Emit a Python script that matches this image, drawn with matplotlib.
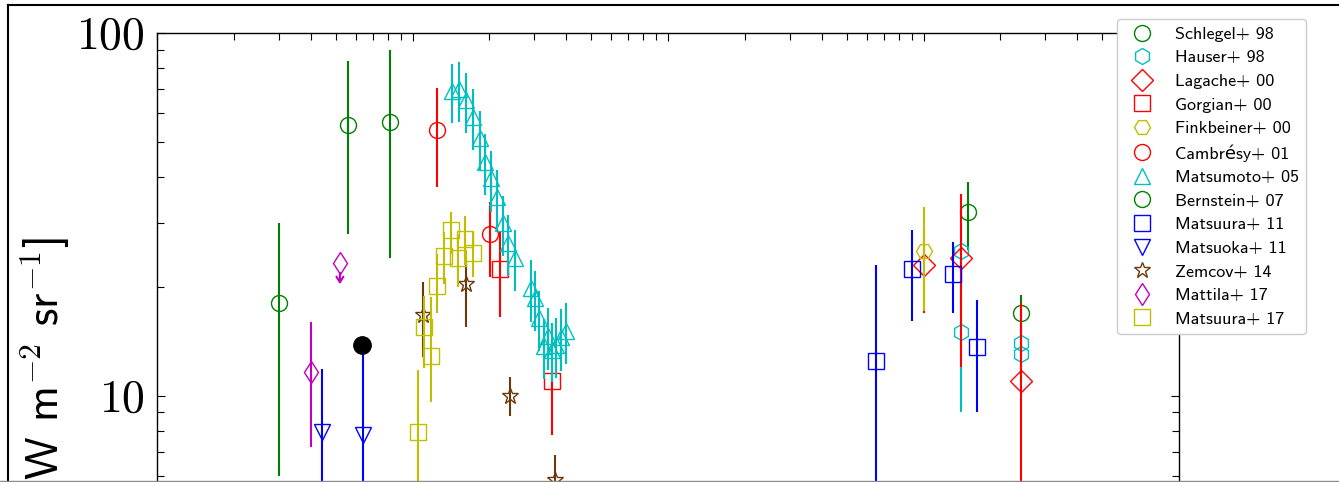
import matplotlib
matplotlib.use('Agg')
import matplotlib.pyplot as plt
from matplotlib.lines import Line2D
from matplotlib.ticker import FuncFormatter, LogLocator, NullFormatter

plt.rcParams['mathtext.fontset'] = 'cm'
plt.rcParams['font.family'] = ['cmss10', 'DejaVu Sans']
plt.rcParams['axes.formatter.use_mathtext'] = True

# ---------------- data (wavelength [um], nuI_nu [nW m^-2 sr^-1]) ----------------
schlegel_x = [150.0, 240.0]
schlegel_y = [32.0, 16.9]
schlegel_err = [6.8, 2.1]

hauser_x = [140.0, 140.0, 240.0, 240.0]
hauser_y = [25.1, 15.0, 14.0, 13.0]
hauser_err = [7.0, 6.0, 3.0, 2.0]

lagache_x = [100.0, 140.0, 240.0]
lagache_y = [22.9, 24.0, 11.0]
lagache_err = [6.0, 12.0, 7.0]

gorjian_x = [2.2, 3.53]
gorjian_y = [22.3, 11.0]
gorjian_lo = [5.8, 3.2]
gorjian_hi = [5.9, 3.3]

finkbeiner_x = [100.0]
finkbeiner_y = [25.1]
finkbeiner_err = [8.0]

cambresy_x = [1.25, 2.01]
cambresy_y = [54.0, 27.9]
cambresy_lo = [16.5, 6.6]
cambresy_hi = [16.4, 6.4]

matsumoto_x = [1.43, 1.52, 1.62, 1.72, 1.84, 1.92, 2.03, 2.14, 2.26, 2.36,
               2.52, 2.91, 3.02, 3.13, 3.27, 3.39, 3.52, 3.65, 3.81, 3.99]
matsumoto_y = [69.2, 70.1, 65.4, 58.7, 51.3, 44.1, 39.8, 35.3, 29.9, 26.4,
               24.0, 19.8, 18.6, 16.4, 13.7, 14.6, 13.4, 13.8, 14.5, 15.1]
matsumoto_err = [12.7, 13.3, 12.4, 11.2, 9.7, 8.4, 7.6, 6.7, 5.7, 5.0,
                 4.6, 3.8, 3.5, 3.1, 2.6, 2.8, 2.5, 2.6, 2.8, 2.9]

bernstein_x = [0.301, 0.561, 0.817]
bernstein_y = [18.0, 55.8, 56.9]
bernstein_err = [12.0, 27.8, 32.9]

matsuura11_x = [65.0, 90.4, 130.0, 161.6]
matsuura11_y = [12.5, 22.3, 21.7, 13.6]
matsuura11_lo = [10.0, 6.2, 4.8, 4.6]
matsuura11_hi = [10.4, 6.3, 4.8, 4.8]

matsuoka_x = [0.441, 0.642]
matsuoka_y = [7.96, 7.79]
matsuoka_lo = [4.0, 5.8]
matsuoka_hi = [3.9, 5.7]

zemcov_x = [1.10, 1.62, 2.41, 3.61]
zemcov_y = [16.7, 20.3, 9.98, 5.86]
zemcov_lo = [3.9, 4.8, 1.2, 1.0]
zemcov_hi = [3.9, 2.9, 1.3, 1.0]

mattila_x = [0.40]
mattila_y = [11.6]
mattila_err = [4.4]
mattila_ul_x = [0.52]
mattila_ul_y = [23.2]
mattila_ul_tip = [20.3]

matsuura17_x = [1.05, 1.11, 1.18, 1.25, 1.33, 1.42, 1.51, 1.61, 1.72]
matsuura17_y = [7.94, 15.5, 12.9, 20.1, 24.3, 28.6, 23.9, 27.0, 24.8]
matsuura17_lo = [3.8, 3.6, 3.3, 3.2, 4.0, 4.0, 4.0, 4.0, 3.5]
matsuura17_hi = [3.8, 3.3, 5.8, 4.5, 4.0, 3.6, 4.0, 4.2, 3.5]

black_x = [0.633]
black_y = [13.8]

y_tick_labels = {10: r'$10$', 100: r'$100$'}

brown = '#6b3a0a'

# ---------------- figure ----------------
W, H = 1339, 482
fig = plt.figure(figsize=(W / 100, H / 100), dpi=100)
ax_left, ax_right, ax_top = 157, 1179, 33
dec_px = 362.7
ymin, ymax = 1.0, 100.0
ax_h = dec_px * 2
ax = fig.add_axes([ax_left / W, (H - (ax_top + ax_h)) / H,
                   (ax_right - ax_left) / W, ax_h / H])
ax.set_xscale('log')
ax.set_yscale('log')
ax.set_xlim(0.1, 1000)
ax.set_ylim(ymin, ymax)

ELW = 1.5
MS = 11.5
MEW = 1.0

def eb(x, y, lo, hi, color, marker, ms=MS):
    ax.errorbar(x, y, yerr=[lo, hi], fmt='none', ecolor=color, elinewidth=ELW, capsize=0)
    ax.plot(x, y, ls='none', marker=marker, ms=ms, mfc='none', mec=color, mew=MEW)

entries = []
eb(schlegel_x, schlegel_y, schlegel_err, schlegel_err, 'g', 'o')
entries.append(('Schlegel+ 98', 'g', 'o', MS))
eb(hauser_x, hauser_y, hauser_err, hauser_err, 'c', 'h')
entries.append(('Hauser+ 98', 'c', 'h', MS))
eb(lagache_x, lagache_y, lagache_err, lagache_err, 'r', 'D')
entries.append(('Lagache+ 00', 'r', 'D', MS))
eb(gorjian_x, gorjian_y, gorjian_lo, gorjian_hi, 'r', 's')
entries.append(('Gorgian+ 00', 'r', 's', MS))
eb(finkbeiner_x, finkbeiner_y, finkbeiner_err, finkbeiner_err, 'y', 'H')
entries.append(('Finkbeiner+ 00', 'y', 'H', MS))
eb(cambresy_x, cambresy_y, cambresy_lo, cambresy_hi, 'r', 'o')
entries.append(('Cambrésy+ 01', 'r', 'o', MS))
eb(matsumoto_x, matsumoto_y, matsumoto_err, matsumoto_err, 'c', '^')
entries.append(('Matsumoto+ 05', 'c', '^', MS))
eb(bernstein_x, bernstein_y, bernstein_err, bernstein_err, 'g', 'o')
entries.append(('Bernstein+ 07', 'g', 'o', MS))
eb(matsuura11_x, matsuura11_y, matsuura11_lo, matsuura11_hi, 'b', 's')
entries.append(('Matsuura+ 11', 'b', 's', MS))
eb(matsuoka_x, matsuoka_y, matsuoka_lo, matsuoka_hi, 'b', 'v')
entries.append(('Matsuoka+ 11', 'b', 'v', MS))
eb(zemcov_x, zemcov_y, zemcov_lo, zemcov_hi, brown, '*', ms=12)
entries.append(('Zemcov+ 14', brown, '*', 12))
eb(mattila_x, mattila_y, mattila_err, mattila_err, 'm', 'd')
ax.plot(mattila_ul_x, mattila_ul_y, ls='none', marker='d', ms=MS, mfc='none', mec='m', mew=MEW)
for xx, yy, tt in zip(mattila_ul_x, mattila_ul_y, mattila_ul_tip):
    ax.annotate('', xy=(xx, tt), xytext=(xx, yy),
                arrowprops=dict(arrowstyle='->,head_width=0.25,head_length=0.4',
                                color='m', lw=1.5, shrinkA=7, shrinkB=0))
entries.append(('Mattila+ 17', 'm', 'd', MS))
eb(matsuura17_x, matsuura17_y, matsuura17_lo, matsuura17_hi, 'y', 's')
entries.append(('Matsuura+ 17', 'y', 's', MS))

ax.plot(black_x, black_y, ls='none', marker='o', ms=12.5, color='k')

# ticks
ax.tick_params(which='both', direction='in', top=True, right=True, width=0.8,
               labelbottom=False)
ax.tick_params(which='major', length=6, pad=9, labelsize=33)
ax.tick_params(which='minor', length=5)
ax.yaxis.set_major_locator(LogLocator(base=10, numticks=10))
ax.yaxis.set_minor_locator(LogLocator(base=10, subs=[2, 3, 4, 5, 6, 7, 8, 9], numticks=20))
ax.yaxis.set_minor_formatter(NullFormatter())
ax.yaxis.set_major_formatter(FuncFormatter(lambda v, p: y_tick_labels.get(int(round(v)), '')))
ax.xaxis.set_minor_formatter(NullFormatter())
for sp in ax.spines.values():
    sp.set_linewidth(1.0)

# y label
fig.text(45 / W, 1 - 237 / H, r'$\nu I_\nu$ [nW m$^{-2}$ sr$^{-1}$]',
         rotation=90, ha='center', va='top', fontsize=32.5)

# legend
handles = [Line2D([], [], ls='none', marker=m, ms=s, mfc='none', mec=c, mew=MEW)
           for (_, c, m, s) in entries]
labels = [e[0] for e in entries]
ax.legend(handles, labels, loc='upper left', bbox_to_anchor=(1117 / W, 1 - 19 / H),
          bbox_transform=fig.transFigure, borderaxespad=0, fontsize=13,
          numpoints=1, labelspacing=0.44, framealpha=1.0)

# outer frame
fig.add_artist(Line2D([8 / W, 8 / W], [0, 1 - 5 / H], color='k', lw=1.5))
fig.add_artist(Line2D([8 / W, 1], [1 - 5 / H, 1 - 5 / H], color='k', lw=1.5))
fig.add_artist(Line2D([0, 1], [1.5 / H, 1.5 / H], color='0.55', lw=1.0))

fig.savefig('out.png', dpi=100)
